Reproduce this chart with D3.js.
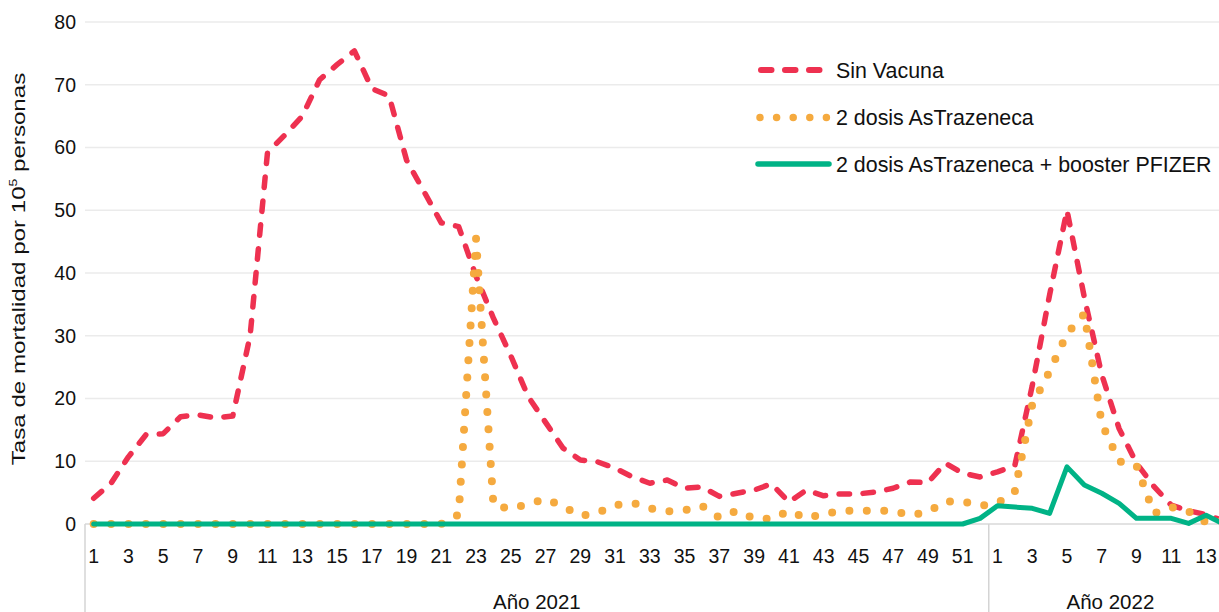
<!DOCTYPE html>
<html>
<head>
<meta charset="utf-8">
<script src="https://cdn.jsdelivr.net/npm/d3@7"></script>
<style>
  html, body { margin: 0; padding: 0; background: #fff; overflow: hidden; }
  svg { display: block; font-family: "Liberation Sans", Arial, Helvetica, sans-serif; }
</style>
</head>
<body>
<svg id="chart" width="1219" height="612"></svg>
<script>
// ---------------- DATA ----------------
const weeks2021 = [1,2,3,4,5,6,7,8,9,10,11,12,13,14,15,16,17,18,19,20,21,22,23,24,25,26,
                   27,28,29,30,31,32,33,34,35,36,37,38,39,40,41,42,43,44,45,46,47,48,49,50,51,52];
const weeks2022 = [1,2,3,4,5,6,7,8,9,10,11,12,13,14];
const groupLabels = ["Año 2021", "Año 2022"];
const seriesNames = ["Sin Vacuna", "2 dosis AsTrazeneca", "2 dosis AsTrazeneca + booster PFIZER"];
const yTicks = [0,10,20,30,40,50,60,70,80];

const sinVacuna = [
  4.1, 6.5, 10.7, 14.2, 14.4, 17.1, 17.4, 16.9, 17.2, 30, 59.2, 62, 65, 70.8, 73.2, 75.4,
  69.4, 68.2, 58, 53, 48, 47.4, 39.5, 32.8, 26.8, 20.3, 16.2, 12.1, 10.2, 9.9, 8.9, 7.5,
  6.5, 7, 5.7, 5.9, 4.4, 4.9, 5.4, 6.4, 3.5, 5.4, 4.5, 4.8, 4.8, 5.1, 5.7, 6.7, 6.6, 9.7, 8.1, 7.5,
  8.3, 9.3, 22, 36.5, 50, 36.1, 23.8, 15.2, 9.7, 6, 3, 2.1, 1.5, 0.5
];
const dosAZ = [
  0, 0, 0, 0, 0, 0, 0, 0, 0, 0, 0, 0, 0, 0, 0, 0, 0, 0, 0, 0, 0, 1.5, 45.5, 3.0, 2.4, 3.2,
  4.0, 2.8, 1.3, 1.8, 3.0, 3.4, 2.5, 2.0, 2.2, 2.9, 1.0, 2.1, 0.9, 0.8, 2.1, 0.9, 1.6, 2.1,
  2.1, 2.1, 2.1, 1.4, 1.9, 3.6, 3.6, 2.9,
  3.3, 5.2, 19, 24.3, 30.3, 33.5, 16, 10, 9.3, 1.7, 2.7, 2.0, 0.3, 0.5
];
const dosAZBooster = [
  0, 0, 0, 0, 0, 0, 0, 0, 0, 0, 0, 0, 0, 0, 0, 0, 0, 0, 0, 0, 0, 0, 0, 0, 0, 0,
  0, 0, 0, 0, 0, 0, 0, 0, 0, 0, 0, 0, 0, 0, 0, 0, 0, 0, 0, 0, 0, 0, 0, 0, 0, 0.9,
  2.9, 2.7, 2.5, 1.7, 9.1, 6.2, 4.9, 3.3, 0.9, 0.9, 0.9, 0.1, 1.4, 0
];

// ---------------- BUILD ----------------
const cats = weeks2021.map(w => ({key: "2021-" + w, week: w, year: 0}))
  .concat(weeks2022.map(w => ({key: "2022-" + w, week: w, year: 1})));
const keys = cats.map(c => c.key);

const colors = ["#ee3150", "#f5aa3f", "#00b386"];
const svg = d3.select("#chart");

const left = 85, band = 17.38;
const x = d3.scaleBand().domain(keys).range([left, left + keys.length * band]).padding(0);
const y = d3.scaleLinear().domain([0, 80]).range([524, 22]);
const cx = k => x(k) + x.bandwidth() / 2;

// gridlines
svg.append("g").selectAll("line").data(yTicks.filter(t => t > 0)).join("line")
  .attr("x1", left).attr("x2", 1219)
  .attr("y1", d => y(d)).attr("y2", d => y(d))
  .attr("stroke", "#ebebeb").attr("stroke-width", 1.5);
svg.append("line").attr("x1", left).attr("x2", 1219).attr("y1", y(0)).attr("y2", y(0))
  .attr("stroke", "#d9d9d9").attr("stroke-width", 1.5);

// y axis
const yAxis = svg.append("g").attr("transform", `translate(${left},0)`)
  .call(d3.axisLeft(y).tickValues(yTicks).tickSize(0).tickPadding(9));
yAxis.select(".domain").remove();
yAxis.selectAll("text").attr("font-size", 19.5).attr("fill", "#111")
  .attr("font-family", "Liberation Sans, Arial, sans-serif");

// x axis
const tickKeys = cats.filter(c => c.week % 2 === 1).map(c => c.key);
const xAxis = svg.append("g").attr("transform", `translate(0,${y(0)})`)
  .call(d3.axisBottom(x).tickValues(tickKeys).tickSize(0)
    .tickFormat(k => k.split("-")[1]));
xAxis.select(".domain").remove();
xAxis.selectAll("text").attr("y", 39).attr("dy", 0).attr("font-size", 19.5).attr("fill", "#111")
  .attr("font-family", "Liberation Sans, Arial, sans-serif");

// group separators & labels
const groups = [0, 1].map(g => {
  const ks = cats.filter(c => c.year === g).map(c => c.key);
  return {label: groupLabels[g], x0: x(ks[0]), x1: x(ks[ks.length - 1]) + x.bandwidth()};
});
svg.append("g").selectAll("line").data([groups[0].x0, groups[1].x0, groups[1].x1]).join("line")
  .attr("x1", d => d).attr("x2", d => d).attr("y1", y(0)).attr("y2", 612)
  .attr("stroke", "#d4d4d4").attr("stroke-width", 1.5);
svg.append("g").selectAll("text").data(groups).join("text")
  .attr("x", d => (d.x0 + d.x1) / 2).attr("y", 609)
  .attr("text-anchor", "middle").attr("font-size", 20.5).attr("fill", "#111")
  .text(d => d.label);

// y title (glyphs in the reference are stretched along the text direction)
const yt = svg.append("text")
  .attr("transform", "translate(25,269) rotate(-90) scale(1.27,1)")
  .attr("text-anchor", "middle").attr("font-size", 19).attr("fill", "#111");
yt.append("tspan").text("Tasa de mortalidad por 10");
yt.append("tspan").attr("font-size", 11).attr("dy", -8).text("5");
yt.append("tspan").attr("dy", 8).text(" personas");

// lines
const seriesData = [sinVacuna, dosAZ, dosAZBooster];
const styles = [
  {w: 5.5, dash: "10.5,13.5"},
  {w: 8, dash: "0,17.4"},
  {w: 5, dash: null}
];
const line = d3.line().x(d => cx(d.key)).y(d => y(d.v));
seriesData.forEach((vals, i) => {
  const pts = keys.map((k, j) => ({key: k, v: vals[j]}));
  svg.append("path").datum(pts).attr("d", line)
    .attr("fill", "none").attr("stroke", colors[i])
    .attr("stroke-width", styles[i].w)
    .attr("stroke-linecap", "round").attr("stroke-linejoin", "round")
    .attr("stroke-dasharray", styles[i].dash);
});

// legend
const legY = [70, 117.5, 164];
const legX = [[761, 820], [760, 826.5], [758, 829]];
const lg = svg.append("g");
seriesNames.forEach((name, i) => {
  lg.append("line").attr("x1", legX[i][0]).attr("x2", legX[i][1])
    .attr("y1", legY[i]).attr("y2", legY[i])
    .attr("stroke", colors[i]).attr("stroke-width", i === 1 ? 7.5 : (i === 0 ? 6 : 5.5))
    .attr("stroke-linecap", "round")
    .attr("stroke-dasharray", i === 0 ? "10.5,13.5" : (i === 1 ? "0,16.6" : null));
  lg.append("text").attr("x", 836).attr("y", legY[i] + 7.5)
    .attr("font-size", 21.4).attr("fill", "#111").text(name);
});
</script>
</body>
</html>
